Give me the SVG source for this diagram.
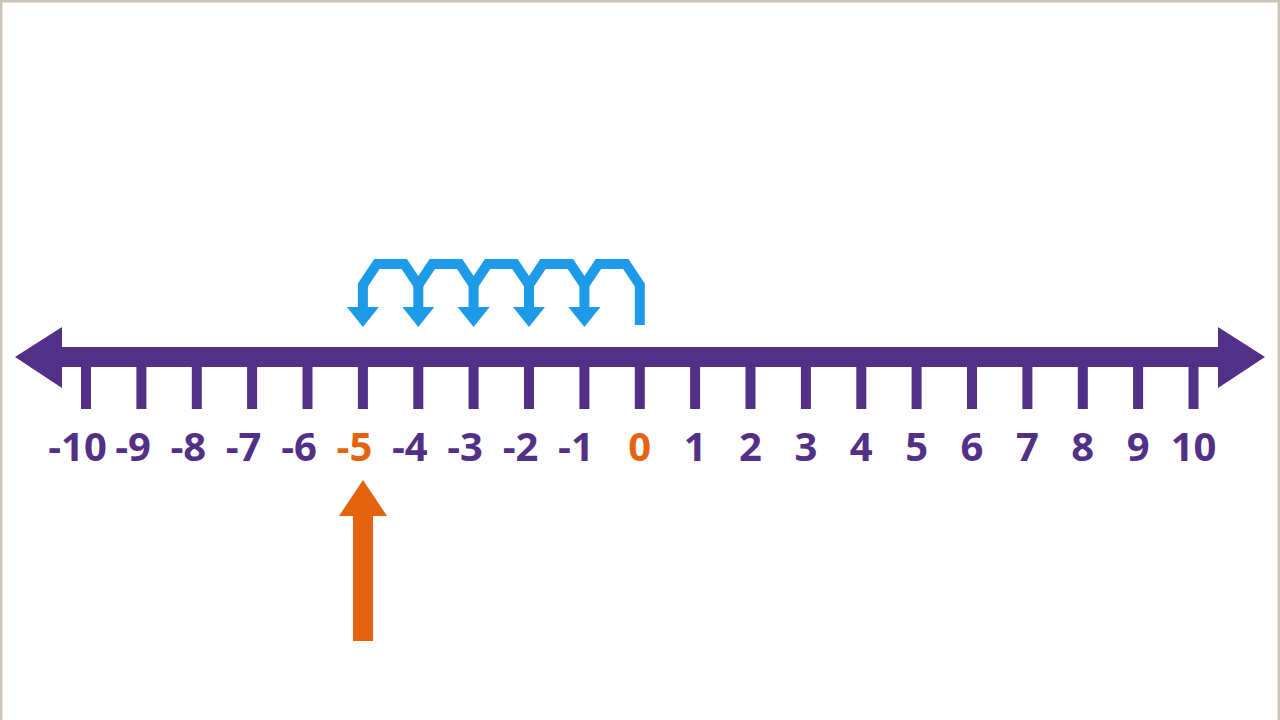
<svg xmlns="http://www.w3.org/2000/svg" width="1280" height="720" viewBox="0 0 1280 720">
<style>
.lbl{font-family:"Open Sans","Liberation Sans",sans-serif;font-weight:700;font-size:40px;fill:#533087;text-anchor:middle}
.hot{fill:#e5630f}
.tick{fill:#533087}
.jump{fill:none;stroke:#1d9ae8;stroke-width:10;stroke-linejoin:miter}
.jhead{fill:#1d9ae8}
</style>
<defs>
<rect id="tk" x="-5" y="365" width="10" height="44" class="tick"/>
<polygon id="jh" points="-16,307 16,307 0,327" class="jhead"/>
</defs>
<rect x="0" y="0" width="1280" height="720" fill="#ffffff"/>
<path d="M1 720V1H1279V720" fill="none" stroke="#c9c3ba" stroke-width="3"/>
<g id="number-line">
<rect x="60" y="347" width="1160" height="20" fill="#533087"/>
<polygon points="15,357 62,327 62,388" fill="#533087"/>
<polygon points="1265,357 1218,327 1218,388" fill="#533087"/>
<use href="#tk" x="86"/><use href="#tk" x="141.4"/><use href="#tk" x="196.8"/><use href="#tk" x="252.1"/><use href="#tk" x="307.5"/><use href="#tk" x="362.9"/><use href="#tk" x="418.3"/><use href="#tk" x="473.6"/><use href="#tk" x="529"/><use href="#tk" x="584.4"/><use href="#tk" x="639.8"/><use href="#tk" x="695.1"/><use href="#tk" x="750.5"/><use href="#tk" x="805.9"/><use href="#tk" x="861.3"/><use href="#tk" x="916.6"/><use href="#tk" x="972"/><use href="#tk" x="1027.4"/><use href="#tk" x="1082.8"/><use href="#tk" x="1138.1"/><use href="#tk" x="1193.5"/>
</g>
<g id="labels">
<text class="lbl" x="77.5" y="461">-10</text>
<text class="lbl" x="133" y="461">-9</text>
<text class="lbl" x="188.3" y="461">-8</text>
<text class="lbl" x="243.6" y="461">-7</text>
<text class="lbl" x="299" y="461">-6</text>
<text class="lbl hot" x="354.4" y="461">-5</text>
<text class="lbl" x="409.8" y="461">-4</text>
<text class="lbl" x="465.1" y="461">-3</text>
<text class="lbl" x="520.5" y="461">-2</text>
<text class="lbl" x="575.9" y="461">-1</text>
<text class="lbl hot" x="639.8" y="461">0</text>
<text class="lbl" x="695.1" y="461">1</text>
<text class="lbl" x="750.5" y="461">2</text>
<text class="lbl" x="805.9" y="461">3</text>
<text class="lbl" x="861.3" y="461">4</text>
<text class="lbl" x="916.6" y="461">5</text>
<text class="lbl" x="972" y="461">6</text>
<text class="lbl" x="1027.4" y="461">7</text>
<text class="lbl" x="1082.8" y="461">8</text>
<text class="lbl" x="1138.1" y="461">9</text>
<text class="lbl" x="1193.5" y="461">10</text>
</g>
<g id="connectors">
<path class="jump" d="M639.8 325V285L625.8 264H598.4L584.4 285L570.4 264H543L529 285L515 264H487.6L473.6 285L459.6 264H432.3L418.3 285L404.3 264H376.9L362.9 285V309"/>
<path class="jump" d="M584.4 285V309M529 285V309M473.6 285V309M418.3 285V309"/>
<use href="#jh" x="362.9"/><use href="#jh" x="418.3"/><use href="#jh" x="473.6"/><use href="#jh" x="529"/><use href="#jh" x="584.4"/>
</g>
<g id="pointer">
<polygon points="363,480 387,516 373,516 373,641 353,641 353,516 339,516" fill="#e5630f"/>
</g>
</svg>
